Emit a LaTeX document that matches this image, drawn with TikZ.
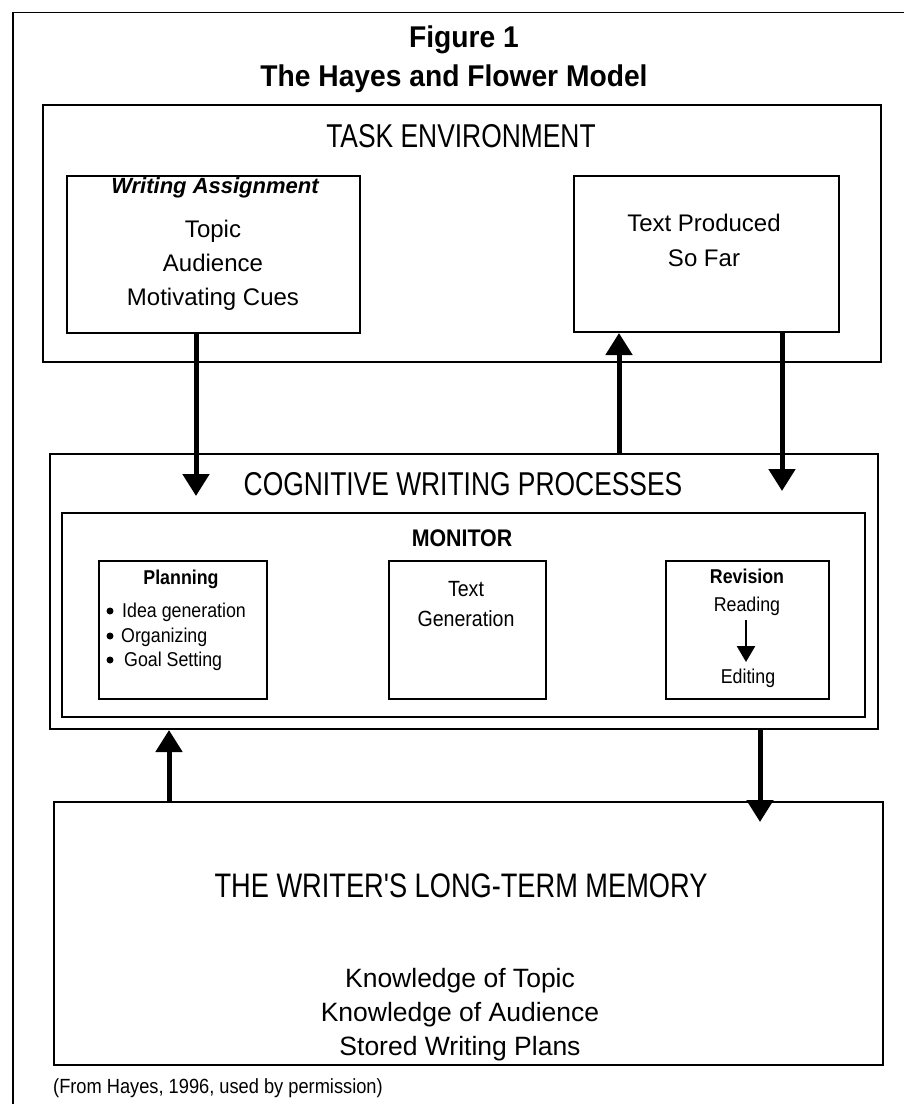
\documentclass[tikz,border=0pt]{standalone}
\usepackage{fontspec}
\setmainfont{Liberation Sans}
\newfontfamily\headfont[FakeStretch=0.8]{Liberation Sans}
\newfontfamily\condfont[FakeStretch=0.89]{Liberation Sans}
\newfontfamily\titlefont[FakeStretch=0.94]{Liberation Sans}
\usetikzlibrary{arrows.meta,calc}
\begin{document}
\begin{tikzpicture}[x=1pt,y=-1pt,
  box/.style={draw, line width=2pt, anchor=north west, inner sep=0pt},
  big/.style={line width=5pt, -{Triangle[width=26pt,length=22pt]}},
  small/.style={line width=2.5pt, -{Triangle[width=18pt,length=16pt]}},
  lbl/.style={anchor=base, inner sep=0pt},
  ttl/.style={lbl, font=\titlefont\bfseries\fontsize{30}{34}\selectfont},
  head/.style={lbl, font=\headfont\fontsize{33}{38}\selectfont},
  body/.style={lbl, font=\fontsize{24}{28}\selectfont},
  bigbody/.style={lbl, font=\fontsize{26.5}{30}\selectfont},
  sm/.style={lbl, font=\condfont\fontsize{20}{24}\selectfont},
  smb/.style={lbl, font=\condfont\bfseries\fontsize{20}{24}\selectfont},
  item/.style={anchor=base west, inner sep=0pt, font=\condfont\fontsize{20}{24}\selectfont},
  dot/.style={circle, fill, inner sep=0pt, minimum size=7pt}]
\useasboundingbox (0,0) rectangle (904,1104);
\fill[white] (0,0) rectangle (904,1104);
% outer frame (top and left sides)
\draw[line width=1.5pt] (904,12.5) -- (13,12.5) -- (13,1104);
% title
\node[ttl] (fig) at (464,47) {Figure 1};
\node[ttl] (model) at (454,86) {The Hayes and Flower Model};
% task environment
\node[box, minimum width=838pt, minimum height=257pt] (te) at (42,104) {};
\node[head] (tetxt) at (461,147) {TASK ENVIRONMENT};
\node[box, minimum width=293pt, minimum height=157pt] (wa) at (66,175) {};
\node[lbl, font=\bfseries\itshape\fontsize{22}{26}\selectfont] (watitle) at (215,193) {Writing Assignment};
\node[body] (topic) at (213,237) {Topic};
\node[body] (aud) at (213,271) {Audience};
\node[body] (cues) at (213,305) {Motivating Cues};
\node[box, minimum width=265pt, minimum height=156pt] (tp) at (573,175) {};
\node[body] (tp1) at (704,231) {Text Produced};
\node[body] (tp2) at (704,266) {So Far};
% cognitive writing processes
\node[box, minimum width=828pt, minimum height=275pt] (cwp) at (49,453) {};
\node[head] (cwptxt) at (463,495) {COGNITIVE WRITING PROCESSES};
\node[box, minimum width=803pt, minimum height=204pt] (mon) at (61,512) {};
\node[lbl, font=\condfont\bfseries\fontsize{24}{28}\selectfont] (montxt) at (462,546) {MONITOR};
\node[box, minimum width=168pt, minimum height=138pt] (plan) at (98,560) {};
\node[smb] (plantxt) at (181,584) {Planning};
\node[dot] (d1) at (110,611) {};
\node[item] (i1) at (122,617) {Idea generation};
\node[dot] (d2) at (110,636) {};
\node[item] (i2) at (121,642) {Organizing};
\node[dot] (d3) at (110,660) {};
\node[item] (i3) at (124,666) {Goal Setting};
\node[box, minimum width=157pt, minimum height=138pt] (tgen) at (388,560) {};
\node[lbl, font=\condfont\fontsize{22}{26}\selectfont] (tg1) at (466,596) {Text};
\node[lbl, font=\condfont\fontsize{22}{26}\selectfont] (tg2) at (466,626) {Generation};
\node[box, minimum width=163pt, minimum height=138pt] (rev) at (665,560) {};
\node[smb] (revtxt) at (747,583) {Revision};
\node[sm] (reading) at (747,611) {Reading};
\node[sm] (editing) at (748,683) {Editing};
\draw[small] ($(reading.base)+(-1,9)$) -- ($(editing.base)+(-2,-21)$);
% long-term memory
\node[box, minimum width=829pt, minimum height=263pt] (ltm) at (53,801) {};
\node[lbl, font=\headfont\fontsize{34}{38}\selectfont] (ltmtxt) at (461,897) {THE WRITER'S LONG-TERM MEMORY};
\node[bigbody] (k1) at (460,987) {Knowledge of Topic};
\node[bigbody] (k2) at (460,1021) {Knowledge of Audience};
\node[bigbody] (k3) at (460,1055) {Stored Writing Plans};
% caption
\node[anchor=base west, inner sep=0pt, font=\condfont\fontsize{20.5}{24}\selectfont] (cap) at (53,1093) {(From Hayes, 1996, used by permission)};
% arrows
\coordinate (x1) at (196,0);
\coordinate (x2) at (619,0);
\coordinate (x3) at (782,0);
\coordinate (x4) at (169,0);
\coordinate (x5) at (760,0);
\draw[big] (wa.south -| x1) -- ($(cwp.north -| x1)+(0,43)$);
\draw[big] (cwp.north -| x2) -- (tp.south -| x2);
\draw[big] (tp.south -| x3) -- ($(cwp.north -| x3)+(0,38)$);
\draw[big] (ltm.north -| x4) -- (cwp.south -| x4);
\draw[big] (cwp.south -| x5) -- ($(ltm.north -| x5)+(0,21)$);
\end{tikzpicture}
\end{document}
